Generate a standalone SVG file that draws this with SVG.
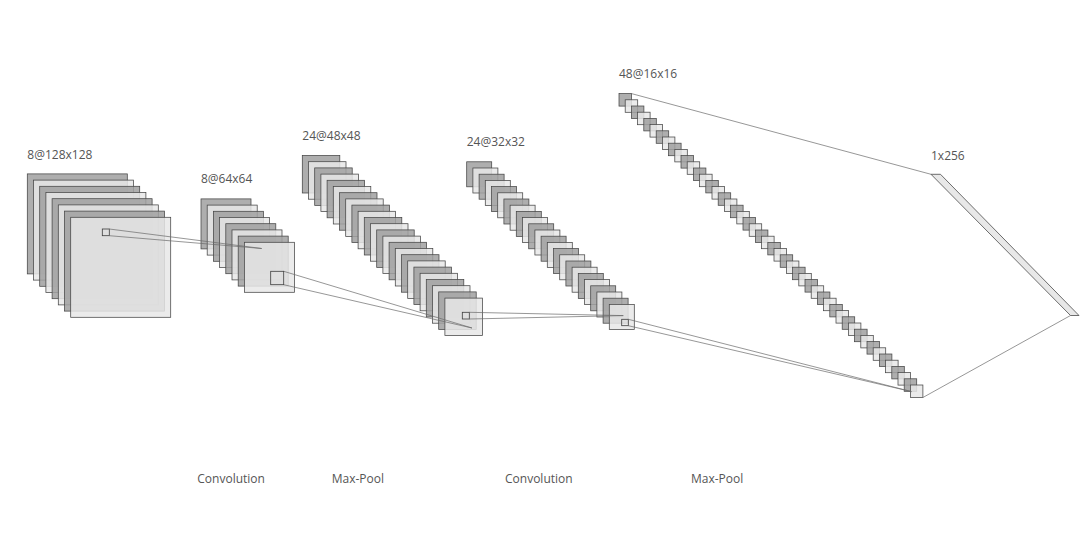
<svg xmlns="http://www.w3.org/2000/svg" width="1080" height="535" viewBox="0 0 1080 535">
<style>
text{font-family:"Open Sans","Noto Sans","Liberation Sans",sans-serif;font-size:12px;fill:#555}
rect{fill-opacity:0.85;stroke:#454545;stroke-width:0.75}
.d{fill:#a0a0a0}
.l{fill:#e8e8e8}
.k{fill:none;fill-opacity:1;stroke:#3c3c3c;stroke-width:0.8}
.c line{stroke:#6a6a6a;stroke-width:0.7}
.dense{fill:#e8e8e8;stroke:#4a4a4a;stroke-width:0.8}
</style>
<rect x="0" y="0" width="1080" height="535" style="fill:#fff;fill-opacity:1;stroke:none"/>
<g id="layer1">
<text x="27.3" y="158.5">8@128x128</text>
<rect class="d" x="27.3" y="173.9" width="100" height="100"/>
<rect class="l" x="33.5" y="180.1" width="100" height="100"/>
<rect class="d" x="39.7" y="186.3" width="100" height="100"/>
<rect class="l" x="45.9" y="192.5" width="100" height="100"/>
<rect class="d" x="52.1" y="198.7" width="100" height="100"/>
<rect class="l" x="58.3" y="204.9" width="100" height="100"/>
<rect class="d" x="64.5" y="211.1" width="100" height="100"/>
<rect class="l" x="70.7" y="217.3" width="100" height="100"/>
<rect class="k" x="102.3" y="229" width="7" height="6.7"/>
</g>
<g id="layer2">
<text x="201" y="182.5">8@64x64</text>
<rect class="d" x="201" y="198.9" width="50" height="50"/>
<rect class="l" x="207.2" y="205.1" width="50" height="50"/>
<rect class="d" x="213.4" y="211.3" width="50" height="50"/>
<rect class="l" x="219.6" y="217.5" width="50" height="50"/>
<rect class="d" x="225.8" y="223.7" width="50" height="50"/>
<rect class="l" x="232" y="229.9" width="50" height="50"/>
<rect class="d" x="238.2" y="236.1" width="50" height="50"/>
<rect class="l" x="244.4" y="242.3" width="50" height="50"/>
<rect class="k" x="270.7" y="271.3" width="13" height="13.4"/>
</g>
<g id="layer3">
<text x="302.3" y="139.5">24@48x48</text>
<rect class="d" x="302.3" y="155.5" width="37.5" height="37.5"/>
<rect class="l" x="308.5" y="161.7" width="37.5" height="37.5"/>
<rect class="d" x="314.7" y="167.9" width="37.5" height="37.5"/>
<rect class="l" x="320.9" y="174.1" width="37.5" height="37.5"/>
<rect class="d" x="327.1" y="180.3" width="37.5" height="37.5"/>
<rect class="l" x="333.3" y="186.5" width="37.5" height="37.5"/>
<rect class="d" x="339.5" y="192.7" width="37.5" height="37.5"/>
<rect class="l" x="345.7" y="198.9" width="37.5" height="37.5"/>
<rect class="d" x="351.9" y="205.1" width="37.5" height="37.5"/>
<rect class="l" x="358.1" y="211.3" width="37.5" height="37.5"/>
<rect class="d" x="364.3" y="217.5" width="37.5" height="37.5"/>
<rect class="l" x="370.5" y="223.7" width="37.5" height="37.5"/>
<rect class="d" x="376.7" y="229.9" width="37.5" height="37.5"/>
<rect class="l" x="382.9" y="236.1" width="37.5" height="37.5"/>
<rect class="d" x="389.1" y="242.3" width="37.5" height="37.5"/>
<rect class="l" x="395.3" y="248.5" width="37.5" height="37.5"/>
<rect class="d" x="401.5" y="254.7" width="37.5" height="37.5"/>
<rect class="l" x="407.7" y="260.9" width="37.5" height="37.5"/>
<rect class="d" x="413.9" y="267.1" width="37.5" height="37.5"/>
<rect class="l" x="420.1" y="273.3" width="37.5" height="37.5"/>
<rect class="d" x="426.3" y="279.5" width="37.5" height="37.5"/>
<rect class="l" x="432.5" y="285.7" width="37.5" height="37.5"/>
<rect class="d" x="438.7" y="291.9" width="37.5" height="37.5"/>
<rect class="l" x="444.9" y="298.1" width="37.5" height="37.5"/>
<rect class="k" x="462.3" y="312.3" width="7" height="6.7"/>
</g>
<g id="layer4">
<text x="466.7" y="146">24@32x32</text>
<rect class="d" x="466.7" y="161.8" width="25" height="25"/>
<rect class="l" x="472.9" y="168" width="25" height="25"/>
<rect class="d" x="479.1" y="174.2" width="25" height="25"/>
<rect class="l" x="485.3" y="180.4" width="25" height="25"/>
<rect class="d" x="491.5" y="186.6" width="25" height="25"/>
<rect class="l" x="497.7" y="192.8" width="25" height="25"/>
<rect class="d" x="503.9" y="199" width="25" height="25"/>
<rect class="l" x="510.1" y="205.2" width="25" height="25"/>
<rect class="d" x="516.3" y="211.4" width="25" height="25"/>
<rect class="l" x="522.5" y="217.6" width="25" height="25"/>
<rect class="d" x="528.7" y="223.8" width="25" height="25"/>
<rect class="l" x="534.9" y="230" width="25" height="25"/>
<rect class="d" x="541.1" y="236.2" width="25" height="25"/>
<rect class="l" x="547.3" y="242.4" width="25" height="25"/>
<rect class="d" x="553.5" y="248.6" width="25" height="25"/>
<rect class="l" x="559.7" y="254.8" width="25" height="25"/>
<rect class="d" x="565.9" y="261" width="25" height="25"/>
<rect class="l" x="572.1" y="267.2" width="25" height="25"/>
<rect class="d" x="578.3" y="273.4" width="25" height="25"/>
<rect class="l" x="584.5" y="279.6" width="25" height="25"/>
<rect class="d" x="590.7" y="285.8" width="25" height="25"/>
<rect class="l" x="596.9" y="292" width="25" height="25"/>
<rect class="d" x="603.1" y="298.2" width="25" height="25"/>
<rect class="l" x="609.3" y="304.4" width="25" height="25"/>
<rect class="k" x="621.7" y="319.3" width="6.6" height="6.4"/>
</g>
<g id="layer5">
<text x="619" y="77.5">48@16x16</text>
<rect class="d" x="619" y="93.6" width="12.5" height="12.5"/>
<rect class="l" x="625.2" y="99.8" width="12.5" height="12.5"/>
<rect class="d" x="631.4" y="106" width="12.5" height="12.5"/>
<rect class="l" x="637.6" y="112.2" width="12.5" height="12.5"/>
<rect class="d" x="643.8" y="118.4" width="12.5" height="12.5"/>
<rect class="l" x="650" y="124.6" width="12.5" height="12.5"/>
<rect class="d" x="656.2" y="130.8" width="12.5" height="12.5"/>
<rect class="l" x="662.4" y="137" width="12.5" height="12.5"/>
<rect class="d" x="668.6" y="143.2" width="12.5" height="12.5"/>
<rect class="l" x="674.8" y="149.4" width="12.5" height="12.5"/>
<rect class="d" x="681" y="155.6" width="12.5" height="12.5"/>
<rect class="l" x="687.2" y="161.8" width="12.5" height="12.5"/>
<rect class="d" x="693.4" y="168" width="12.5" height="12.5"/>
<rect class="l" x="699.6" y="174.2" width="12.5" height="12.5"/>
<rect class="d" x="705.8" y="180.4" width="12.5" height="12.5"/>
<rect class="l" x="712" y="186.6" width="12.5" height="12.5"/>
<rect class="d" x="718.2" y="192.8" width="12.5" height="12.5"/>
<rect class="l" x="724.4" y="199" width="12.5" height="12.5"/>
<rect class="d" x="730.6" y="205.2" width="12.5" height="12.5"/>
<rect class="l" x="736.8" y="211.4" width="12.5" height="12.5"/>
<rect class="d" x="743" y="217.6" width="12.5" height="12.5"/>
<rect class="l" x="749.2" y="223.8" width="12.5" height="12.5"/>
<rect class="d" x="755.4" y="230" width="12.5" height="12.5"/>
<rect class="l" x="761.6" y="236.2" width="12.5" height="12.5"/>
<rect class="d" x="767.8" y="242.4" width="12.5" height="12.5"/>
<rect class="l" x="774" y="248.6" width="12.5" height="12.5"/>
<rect class="d" x="780.2" y="254.8" width="12.5" height="12.5"/>
<rect class="l" x="786.4" y="261" width="12.5" height="12.5"/>
<rect class="d" x="792.6" y="267.2" width="12.5" height="12.5"/>
<rect class="l" x="798.8" y="273.4" width="12.5" height="12.5"/>
<rect class="d" x="805" y="279.6" width="12.5" height="12.5"/>
<rect class="l" x="811.2" y="285.8" width="12.5" height="12.5"/>
<rect class="d" x="817.4" y="292" width="12.5" height="12.5"/>
<rect class="l" x="823.6" y="298.2" width="12.5" height="12.5"/>
<rect class="d" x="829.8" y="304.4" width="12.5" height="12.5"/>
<rect class="l" x="836" y="310.6" width="12.5" height="12.5"/>
<rect class="d" x="842.2" y="316.8" width="12.5" height="12.5"/>
<rect class="l" x="848.4" y="323" width="12.5" height="12.5"/>
<rect class="d" x="854.6" y="329.2" width="12.5" height="12.5"/>
<rect class="l" x="860.8" y="335.4" width="12.5" height="12.5"/>
<rect class="d" x="867" y="341.6" width="12.5" height="12.5"/>
<rect class="l" x="873.2" y="347.8" width="12.5" height="12.5"/>
<rect class="d" x="879.4" y="354" width="12.5" height="12.5"/>
<rect class="l" x="885.6" y="360.2" width="12.5" height="12.5"/>
<rect class="d" x="891.8" y="366.4" width="12.5" height="12.5"/>
<rect class="l" x="898" y="372.6" width="12.5" height="12.5"/>
<rect class="d" x="904.2" y="378.8" width="12.5" height="12.5"/>
<rect class="l" x="910.4" y="385" width="12.5" height="12.5"/>
</g>
<g id="dense">
<text x="931" y="160">1x256</text>
<polygon class="dense" points="931,174.3 940.5,174.3 1079,315.5 1070.5,315.5"/>
</g>
<g id="connectors" class="c">
<line x1="109.3" y1="229" x2="261.7" y2="248.5"/>
<line x1="109.3" y1="235.7" x2="261.7" y2="248.5"/>
<line x1="283.7" y1="271.3" x2="472" y2="328"/>
<line x1="283.7" y1="284.7" x2="472" y2="328"/>
<line x1="469.3" y1="312.3" x2="623.3" y2="315.6"/>
<line x1="469.3" y1="319" x2="623.3" y2="315.6"/>
<line x1="628.3" y1="319.3" x2="911.5" y2="391.6"/>
<line x1="628.3" y1="325.7" x2="911.5" y2="391.6"/>
<line x1="631.5" y1="93.6" x2="931" y2="174.3"/>
<line x1="922.9" y1="397.5" x2="1070.5" y2="315.5"/>
</g>
<g id="captions">
<text x="197.3" y="483">Convolution</text>
<text x="331.7" y="483">Max-Pool</text>
<text x="505" y="483">Convolution</text>
<text x="691" y="483">Max-Pool</text>
</g>
</svg>
